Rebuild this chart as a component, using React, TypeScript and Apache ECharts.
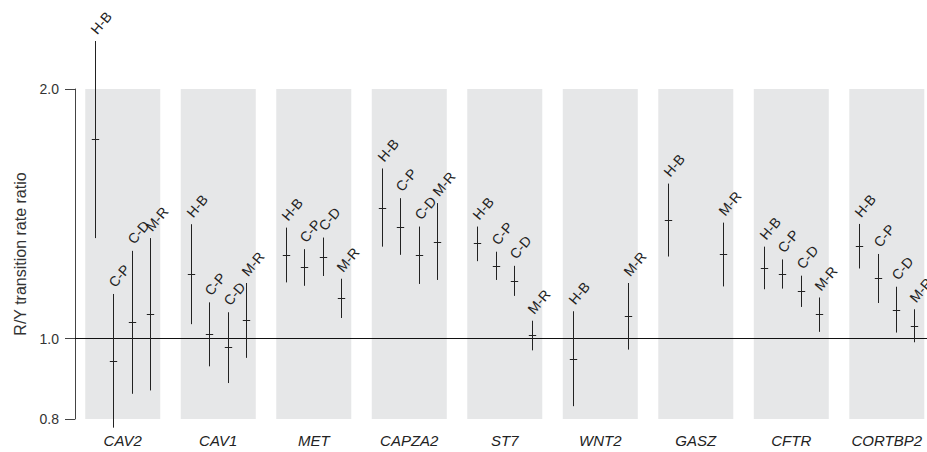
import React, { useEffect, useRef } from "react";
import * as echarts from "echarts";

const genes = ["CAV2", "CAV1", "MET", "CAPZA2", "ST7", "WNT2", "GASZ", "CFTR", "CORTBP2"];
const comparisons = ["H-B", "C-P", "C-D", "M-R"];
const yTicks = [0.8, 1.0, 2.0];

// ratio estimates and interval bounds per comparison (null = not shown)
const hbEst = [1.739, 1.196, 1.261, 1.439, 1.303, 0.945, 1.39, 1.218, 1.293];
const hbLow = [1.322, 1.041, 1.169, 1.291, 1.24, 0.829, 1.256, 1.147, 1.215];
const hbHigh = [2.285, 1.374, 1.361, 1.604, 1.365, 1.079, 1.538, 1.291, 1.375];

const cpEst = [0.941, 1.014, 1.22, 1.365, 1.223, null, null, 1.196, 1.182];
const cpLow = [0.781, 0.926, 1.158, 1.262, 1.177, null, null, 1.149, 1.104];
const cpHigh = [1.132, 1.106, 1.282, 1.477, 1.273, null, null, 1.246, 1.265];

const cdEst = [1.047, 0.976, 1.255, 1.261, 1.173, null, null, 1.14, 1.084];
const cdLow = [0.858, 0.884, 1.19, 1.164, 1.126, null, null, 1.092, 1.017];
const cdHigh = [1.276, 1.076, 1.324, 1.365, 1.224, null, null, 1.191, 1.155];

const mrEst = [1.071, 1.052, 1.119, 1.309, 1.009, 1.064, 1.264, 1.07, 1.036];
const mrLow = [0.866, 0.948, 1.059, 1.177, 0.968, 0.97, 1.156, 1.019, 0.99];
const mrHigh = [1.322, 1.167, 1.181, 1.457, 1.051, 1.167, 1.38, 1.121, 1.085];

const seriesSets = [
  { est: hbEst, low: hbLow, high: hbHigh },
  { est: cpEst, low: cpLow, high: cpHigh },
  { est: cdEst, low: cdLow, high: cdHigh },
  { est: mrEst, low: mrLow, high: mrHigh },
];

const offsets = [-0.29, -0.097, 0.097, 0.29];
const PANEL_HALF = 0.3927;
const FONT = "'Liberation Sans', Arial, Helvetica, sans-serif";
const lg = (v: number) => Math.log10(v);
const Y_MIN = lg(0.8);
const Y_MAX = lg(2.0);

export default function App() {
  const ref = useRef<HTMLDivElement>(null);
  useEffect(() => {
    if (!ref.current) return;
    const chart = echarts.init(ref.current, undefined, { renderer: "svg" });

    const panelSeries = {
      type: "custom",
      silent: true,
      z: 1,
      data: genes.map((_, i) => [i]),
      renderItem: (params: any, api: any) => {
        const i = api.value(0);
        const p1 = api.coord([i - PANEL_HALF, Y_MAX]);
        const p2 = api.coord([i + PANEL_HALF, Y_MIN]);
        return {
          type: "rect",
          shape: { x: p1[0], y: p1[1], width: p2[0] - p1[0], height: p2[1] - p1[1] },
          style: { fill: "#e6e7e8" },
        };
      },
      markLine: {
        silent: true,
        symbol: ["none", "none"],
        label: { show: false },
        lineStyle: { color: "#111", width: 1, type: "solid" },
        data: [{ yAxis: 0 }],
        z: 3,
      },
    };

    const barSeries = comparisons.map((name, c) => {
      const set = seriesSets[c];
      const data: number[][] = [];
      genes.forEach((_, i) => {
        const e = set.est[i];
        if (e == null) return;
        data.push([i + offsets[c], lg(set.low[i] as number), lg(e), lg(set.high[i] as number)]);
      });
      return {
        type: "custom",
        name,
        silent: true,
        z: 4,
        clip: false,
        data,
        renderItem: (params: any, api: any) => {
          const x = api.value(0);
          const pLo = api.coord([x, api.value(1)]);
          const pEst = api.coord([x, api.value(2)]);
          const pHi = api.coord([x, api.value(3)]);
          const px = Math.round(pLo[0]) + 0.5;
          const ey = Math.round(pEst[1]) + 0.5;
          return {
            type: "group",
            children: [
              {
                type: "line",
                shape: { x1: px, y1: pLo[1], x2: px, y2: pHi[1] },
                style: { stroke: "#222", lineWidth: 1 },
              },
              {
                type: "line",
                shape: { x1: px - 3.7, y1: ey, x2: px + 3.7, y2: ey },
                style: { stroke: "#222", lineWidth: 1 },
              },
              {
                type: "text",
                x: px - 2,
                y: pHi[1] - 9,
                rotation: (50 * Math.PI) / 180,
                style: {
                  text: name,
                  fill: "#222",
                  fontSize: 14,
                  fontFamily: FONT,
                  align: "left",
                  verticalAlign: "middle",
                },
              },
            ],
          };
        },
      };
    });

    chart.setOption({
      animation: false,
      backgroundColor: "#ffffff",
      grid: { left: 75, right: 0, top: 89, bottom: 33, containLabel: false },
      xAxis: {
        type: "value",
        min: -0.5,
        max: 8.421,
        axisLine: { show: false },
        axisTick: { show: false },
        splitLine: { show: false },
        axisLabel: {
          customValues: genes.map((_, i) => i),
          formatter: (v: number) => genes[Math.round(v)] ?? "",
          fontFamily: FONT,
          fontStyle: "italic",
          fontSize: 15,
          color: "#222",
          margin: 14,
        },
      },
      yAxis: {
        type: "value",
        min: Y_MIN,
        max: Y_MAX,
        name: "R/Y transition rate ratio",
        nameLocation: "middle",
        nameRotate: 90,
        nameGap: 40,
        nameTextStyle: { fontFamily: FONT, fontSize: 16, color: "#333" },
        axisLine: { show: true, onZero: false, lineStyle: { color: "#444", width: 1 } },
        axisTick: {
          show: true,
          length: 10,
          customValues: yTicks.map(lg),
          lineStyle: { color: "#444", width: 1 },
        },
        splitLine: { show: false },
        axisLabel: {
          customValues: yTicks.map(lg),
          formatter: (v: number) => Math.pow(10, v).toFixed(1),
          fontFamily: FONT,
          fontSize: 14,
          color: "#333",
          margin: 16,
        },
      },
      series: [panelSeries, ...barSeries],
    });

    return () => chart.dispose();
  }, []);

  return (
    <div
      ref={ref}
      style={{ position: "fixed", left: 0, top: 0, width: 927, height: 452 }}
    />
  );
}
